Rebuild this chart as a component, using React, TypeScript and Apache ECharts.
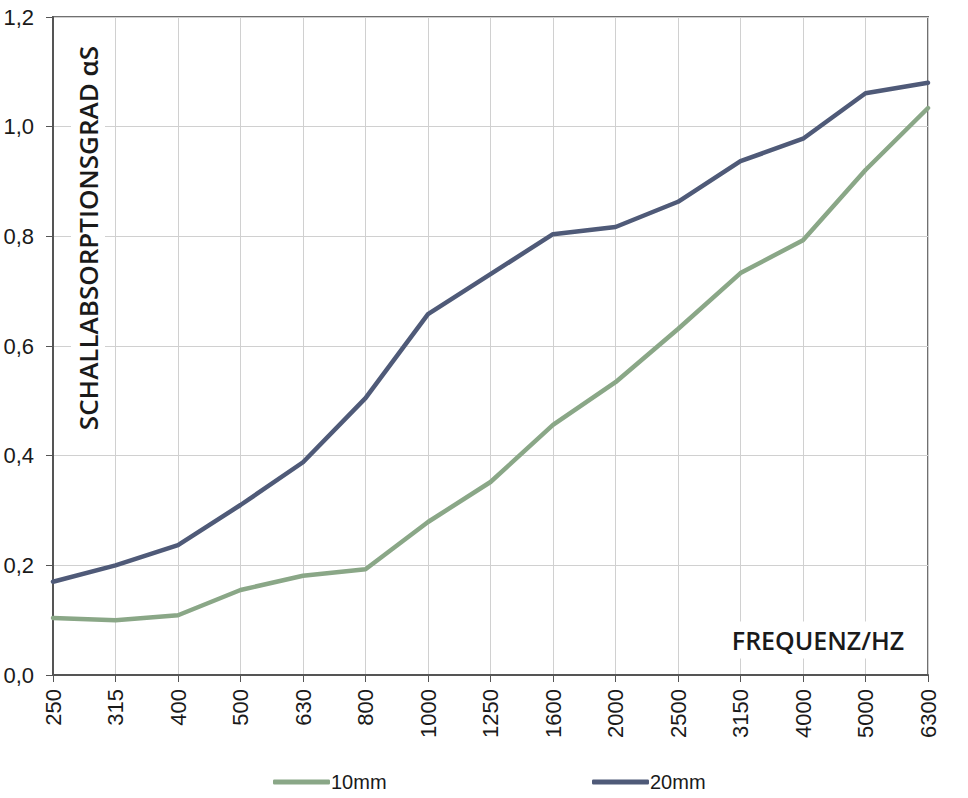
import React, { useEffect, useRef } from "react";
import * as echarts from "echarts";

const frequencies = ["250", "315", "400", "500", "630", "800", "1000", "1250", "1600", "2000", "2500", "3150", "4000", "5000", "6300"];
const values10mm = [0.104, 0.100, 0.109, 0.155, 0.181, 0.193, 0.279, 0.352, 0.456, 0.534, 0.631, 0.733, 0.793, 0.921, 1.034];
const values20mm = [0.170, 0.200, 0.237, 0.310, 0.388, 0.505, 0.658, 0.731, 0.804, 0.817, 0.863, 0.937, 0.978, 1.061, 1.080];
const seriesNames = ["10mm", "20mm"];
const yAxisTitle = "SCHALLABSORPTIONSGRAD αS";
const xAxisTitle = "FREQUENZ/HZ";

const GREEN = "#8aa787";
const DARK = "#4f5a78";

export default function App() {
  const ref = useRef<HTMLDivElement>(null);
  useEffect(() => {
    if (!ref.current) return;
    const chart = echarts.init(ref.current, null, { renderer: "svg" });
    const labelFont = "'Liberation Sans', Arial, sans-serif";
    const titleFont = "'Open Sans', 'Noto Sans', sans-serif";
    const legendCommon = {
      top: 767,
      itemWidth: 57,
      itemHeight: 5,
      icon: "roundRect",
      textStyle: { fontFamily: labelFont, fontSize: 20, color: "#1a1a1a", padding: [0, 0, 0, -4] },
    };
    chart.setOption({
      animation: false,
      backgroundColor: "#ffffff",
      grid: {
        left: 53,
        right: 40,
        top: 17,
        bottom: 123,
        show: true,
        borderColor: "#707070",
        borderWidth: 2,
        backgroundColor: "transparent",
      },
      legend: [
        { ...legendCommon, data: [seriesNames[0]], left: 268 },
        { ...legendCommon, data: [seriesNames[1]], left: 587 },
      ],
      xAxis: {
        type: "category",
        data: frequencies,
        boundaryGap: false,
        axisLine: { show: true, lineStyle: { color: "#555555", width: 2 } },
        axisTick: { show: true, length: 7, alignWithLabel: true, lineStyle: { color: "#555555", width: 1 } },
        axisLabel: {
          rotate: 90,
          interval: 0,
          margin: 14,
          fontFamily: labelFont,
          fontSize: 22,
          color: "#1a1a1a",
        },
        splitLine: { show: true, lineStyle: { color: "#d0d0d0", width: 1 } },
      },
      yAxis: {
        type: "value",
        min: 0,
        max: 1.2,
        interval: 0.2,
        axisLine: { show: true, lineStyle: { color: "#555555", width: 2 } },
        axisTick: { show: true, length: 7, lineStyle: { color: "#555555", width: 1 } },
        axisLabel: {
          margin: 19,
          fontFamily: labelFont,
          fontSize: 22,
          color: "#1a1a1a",
          formatter: (v: number) => v.toFixed(1).replace(".", ","),
        },
        splitLine: { show: true, lineStyle: { color: "#d0d0d0", width: 1 } },
      },
      graphic: [
        {
          type: "text",
          x: 88,
          y: 238,
          rotation: Math.PI / 2,
          z: 10,
          style: {
            text: yAxisTitle,
            fontFamily: titleFont,
            fontSize: 26,
            fontWeight: 600,
            fill: "#1a1a1a",
            align: "center",
            verticalAlign: "middle",
            backgroundColor: "#ffffff",
            padding: [4, 10, 4, 10],
          },
        },
        {
          type: "text",
          x: 818,
          y: 640,
          z: 10,
          style: {
            text: xAxisTitle,
            fontFamily: titleFont,
            fontSize: 25,
            fontWeight: 600,
            fill: "#1a1a1a",
            align: "center",
            verticalAlign: "middle",
            backgroundColor: "#ffffff",
            padding: [6, 10, 6, 10],
          },
        },
      ],
      series: [
        {
          name: seriesNames[0],
          type: "line",
          data: values10mm,
          symbol: "none",
          color: GREEN,
          lineStyle: { color: GREEN, width: 4.5, cap: "round", join: "round" },
          itemStyle: { color: GREEN },
          z: 3,
        },
        {
          name: seriesNames[1],
          type: "line",
          data: values20mm,
          symbol: "none",
          color: DARK,
          lineStyle: { color: DARK, width: 4.5, cap: "round", join: "round" },
          itemStyle: { color: DARK },
          z: 4,
        },
      ],
    });
    return () => chart.dispose();
  }, []);
  return <div ref={ref} style={{ width: 968, height: 798, position: "absolute", left: 0, top: 0 }} />;
}
